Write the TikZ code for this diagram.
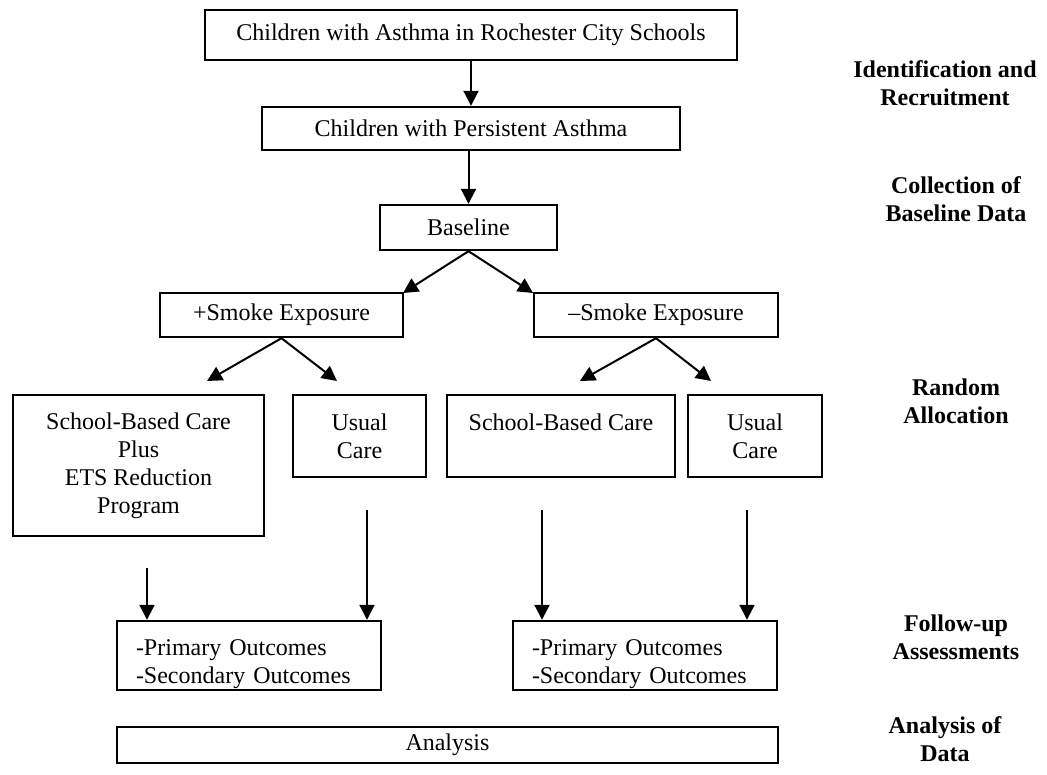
\documentclass[tikz,border=0pt]{standalone}
\usepackage{fontspec}
\setmainfont{Liberation Serif}
\usetikzlibrary{arrows.meta,positioning}

\begin{document}
\begin{tikzpicture}[
  x=1pt, y=-1pt,
  box/.style={draw, line width=2.4pt, align=center, inner sep=0pt, font=\fontsize{24}{28}\selectfont},
  outbox/.style={box, minimum width=264pt, minimum height=69pt, text width=226pt, inner xsep=19pt, align=left},
  stage/.style={align=center, font=\fontsize{24}{28}\selectfont\bfseries},
  arr/.style={-{Triangle[length=15pt,width=15pt]}, line width=2pt}
]
\useasboundingbox (0,0) rectangle (1047,775);
% flow boxes
\node[box, minimum width=532pt, minimum height=50pt] (all) at (471,35) {Children with Asthma in Rochester City Schools};
\node[box, minimum width=418pt, minimum height=43pt] (persist) at (471,128.5) {Children with Persistent Asthma};
\node[box, minimum width=177pt, minimum height=45pt] (base) at (468.5,227.5) {Baseline};
\node[box, minimum width=243pt, minimum height=44pt] (plus) at (281.5,315) {+Smoke Exposure};
\node[box, minimum width=244pt, minimum height=44pt] (minus) at (656,315) {–Smoke Exposure};
\node[box, minimum width=251pt, minimum height=141pt] (sbcets) at (138.5,465.5) {School-Based Care\\Plus\\ETS Reduction\\Program};
\node[box, minimum width=133pt, minimum height=82pt] (ucl) at (359.5,436) {Usual\\Care};
\node[box, minimum width=228pt, minimum height=82pt] (sbc) at (561,436) {School-Based Care\\\phantom{Care}};
\node[box, minimum width=134pt, minimum height=82pt] (ucr) at (755,436) {Usual\\Care};
\node[outbox] (outl) at (249,655.5) {\rule{0pt}{33pt}-Primary Outcomes\\-Secondary Outcomes};
\node[outbox] (outr) at (645,655.5) {\rule{0pt}{33pt}-Primary Outcomes\\-Secondary Outcomes};
\node[box, minimum width=661pt, minimum height=36pt] (anal) at (447.5,745) {Analysis};
% stage labels
\node[stage] (ident) at (945,83) {Identification and\\Recruitment};
\node[stage] (collect) at (956,199) {Collection of\\Baseline Data};
\node[stage] (rand) at (956,401) {Random\\Allocation};
\node[stage] (follow) at (956,637) {Follow-up\\Assessments};
\node[stage] (andata) at (945,739) {Analysis of\\Data};
% free arrow ends
\coordinate (bl) at (403,293);
\coordinate (br) at (533,293);
\coordinate (pl) at (207,381);
\coordinate (pr) at (337,381);
\coordinate (ml) at (580,381);
\coordinate (mr) at (711,381);
\coordinate (d1) at (147,568);
\coordinate (d2) at (367,510);
\coordinate (d3) at (542,510);
\coordinate (d4) at (747,510);
% connectors
\draw[arr] (all) -- (persist);
\draw[arr] (persist.south -| base) -- (base);
\draw[arr] (base.south) -- (bl);
\draw[arr] (base.south) -- (br);
\draw[arr] (plus.south) -- (pl);
\draw[arr] (plus.south) -- (pr);
\draw[arr] (minus.south) -- (ml);
\draw[arr] (minus.south) -- (mr);
\draw[arr] (d1) -- (d1 |- outl.north);
\draw[arr] (d2) -- (d2 |- outl.north);
\draw[arr] (d3) -- (d3 |- outr.north);
\draw[arr] (d4) -- (d4 |- outr.north);
\end{tikzpicture}
\end{document}
